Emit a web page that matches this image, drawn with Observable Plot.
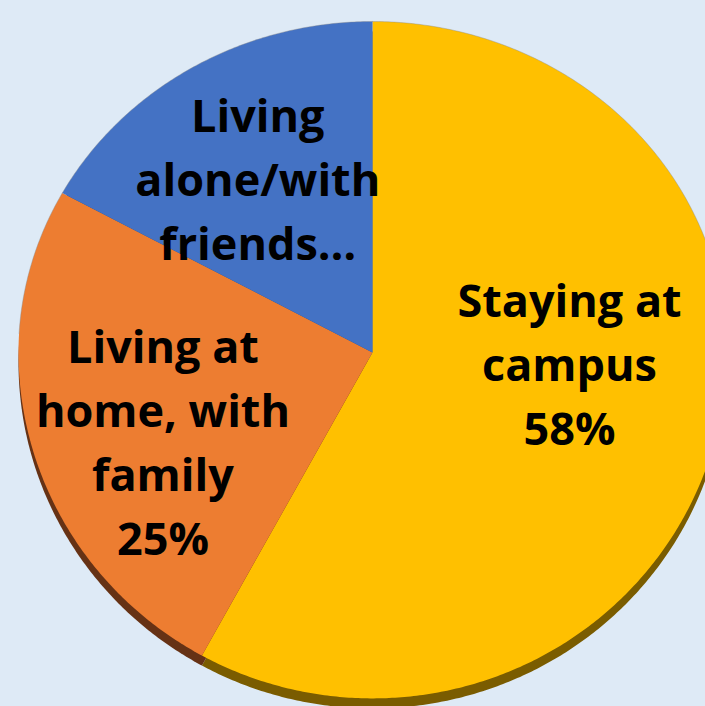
<!DOCTYPE html>
<html>
<head>
<meta charset="utf-8">
<script src="https://cdn.jsdelivr.net/npm/d3@7"></script>
<script src="https://cdn.jsdelivr.net/npm/@observablehq/plot@0.6"></script>
<style>
  html, body { margin: 0; padding: 0; background: #DEEAF6; overflow: hidden; }
  #chart { width: 705px; height: 706px; overflow: hidden; }
  #chart svg { overflow: hidden; }
</style>
</head>
<body>
<div id="chart"></div>
<script>
// Data
const categories = ["Staying at campus", "Living at home, with family", "Living alone/with friends"];
const shares = [58, 25, 17];
const labels = ["Staying at\ncampus\n58%", "Living at\nhome, with\nfamily\n25%", "Living\nalone/with\nfriends…"];
const colors = ["#FFC000", "#ED7D31", "#4472C4"];
const rimColors = ["#7A5C00", "#663215", "#2A4A80"];

try {
// slight perspective: the near (lower) half of the tilted pie is a bit taller
const near = 1.045;
const persp = y => (y < 0 ? y * near : y);

const total = d3.sum(shares);
const slices = [];
let acc = 0;
categories.forEach((c, i) => {
  const a0 = acc / total * 2 * Math.PI;
  acc += shares[i];
  const a1 = acc / total * 2 * Math.PI;
  slices.push({key: c, i, a0, a1, mid: (a0 + a1) / 2});
});
const pts = [];
for (const s of slices) {
  pts.push({key: s.key, i: s.i, x: 0, y: 0, rim: false});
  const n = Math.max(2, Math.ceil((s.a1 - s.a0) / (Math.PI / 360)));
  for (let k = 0; k <= n; k++) {
    const a = s.a0 + (s.a1 - s.a0) * k / n;
    pts.push({key: s.key, i: s.i, x: Math.sin(a), y: persp(Math.cos(a)), rim: true});
  }
  pts.push({key: s.key, i: s.i, x: 0, y: 0, rim: false});
}

const labelR = [0.56, 0.64, 0.62];
const labelRows = slices.map(s => ({
  text: labels[s.i],
  x: Math.sin(s.mid) * labelR[s.i],
  y: persp(Math.cos(s.mid) * labelR[s.i]),
  i: s.i
}));
const labelShift = [[5, -40], [8, 24], [-3, 0]];

const marks = [];
slices.forEach(s => {
  marks.push(Plot.line(pts.filter(p => p.i === s.i), {
    x: "x", y: "y", fill: rimColors[s.i], stroke: "none", dy: 10
  }));
});
slices.forEach(s => {
  marks.push(Plot.line(pts.filter(p => p.i === s.i), {
    x: "x", y: "y", fill: colors[s.i], stroke: "none"
  }));
});
// faint edge along the far (upper) rim
marks.push(Plot.line(pts.filter(p => p.rim && p.y > 0.05), {
  x: "x", y: "y", z: "key", stroke: "#8a8a8a", strokeWidth: 0.8, strokeOpacity: 0.5
}));
slices.forEach(s => {
  marks.push(Plot.text(labelRows.filter(d => d.i === s.i), {
    x: "x", y: "y", text: "text",
    dx: labelShift[s.i][0], dy: labelShift[s.i][1],
    fontFamily: "'Open Sans', sans-serif",
    fontWeight: "bold", fontSize: 45, lineHeight: 1.42,
    fill: "#000", lineAnchor: "middle", textAnchor: "middle"
  }));
});

const plot = Plot.plot({
  width: 705,
  height: 706,
  margin: 0,
  style: {background: "#DEEAF6"},
  x: {domain: [-1, 1], range: [18, 726], axis: null},
  y: {domain: [-1, 1], range: [683, 21], axis: null},
  marks
});
document.getElementById("chart").appendChild(plot);
} catch (e) {
  document.body.insertAdjacentHTML("beforeend", "<pre>" + e + "\n" + e.stack + "</pre>");
}
</script>
</body>
</html>
